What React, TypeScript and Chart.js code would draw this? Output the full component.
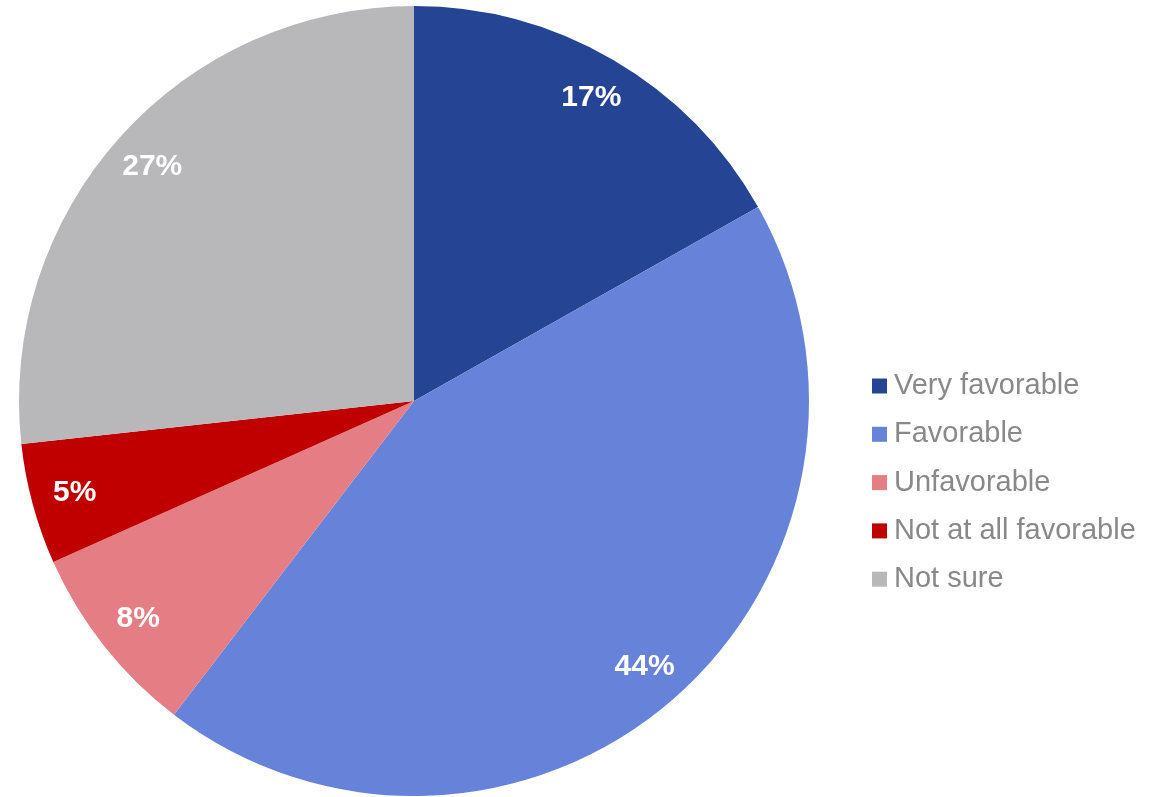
import React, { useEffect, useRef } from "react";
import { Chart, registerables } from "chart.js";

Chart.register(...registerables);

const categories = ["Very favorable", "Favorable", "Unfavorable", "Not at all favorable", "Not sure"];
const values = [17, 44, 8, 5, 27];
const valueLabels = ["17%", "44%", "8%", "5%", "27%"];
const colors = ["#264494", "#6683D9", "#E57D84", "#C00000", "#B8B8BA"];

const FONT = "Arial, 'Liberation Sans', sans-serif";

const sliceLabels = {
  id: "sliceLabels",
  afterDatasetsDraw(chart: any) {
    const ctx = chart.ctx;
    const meta = chart.getDatasetMeta(0);
    ctx.save();
    ctx.fillStyle = "#ffffff";
    ctx.font = `bold 30px ${FONT}`;
    ctx.textAlign = "center";
    ctx.textBaseline = "middle";
    meta.data.forEach((arc: any, i: number) => {
      const mid = (arc.startAngle + arc.endAngle) / 2;
      const r = arc.outerRadius * 0.89;
      const x = arc.x + Math.cos(mid) * r;
      const y = arc.y + Math.sin(mid) * r;
      ctx.fillText(valueLabels[i], x, y);
    });
    ctx.restore();
  },
};

const customLegend = {
  id: "customLegend",
  afterDraw(chart: any) {
    const ctx = chart.ctx;
    ctx.save();
    ctx.font = `29px ${FONT}`;
    ctx.textBaseline = "alphabetic";
    ctx.textAlign = "left";
    const x0 = 872;
    const y0 = 386;
    const step = 48.3;
    categories.forEach((c, i) => {
      const y = y0 + i * step;
      ctx.fillStyle = colors[i];
      ctx.fillRect(x0, y - 7.5, 15, 15);
      ctx.fillStyle = "#898989";
      ctx.fillText(c, x0 + 22, y + 8);
    });
    ctx.restore();
  },
};

export default function App() {
  const ref = useRef<HTMLCanvasElement | null>(null);
  useEffect(() => {
    document.body.style.margin = "0";
    const chart = new Chart(ref.current!, {
      type: "pie",
      data: {
        labels: categories,
        datasets: [
          {
            data: values,
            backgroundColor: colors,
            borderWidth: 0,
          },
        ],
      },
      options: {
        animation: false,
        responsive: false,
        maintainAspectRatio: false,
        layout: { padding: { left: 19, top: 6, right: 344, bottom: 1 } },
        plugins: {
          legend: { display: false },
          tooltip: { enabled: false },
        },
      },
      plugins: [sliceLabels, customLegend],
    });
    return () => chart.destroy();
  }, []);
  return (
    <div style={{ width: 1153, height: 797, background: "#fff" }}>
      <canvas ref={ref} width={1153} height={797} style={{ display: "block" }} />
    </div>
  );
}
